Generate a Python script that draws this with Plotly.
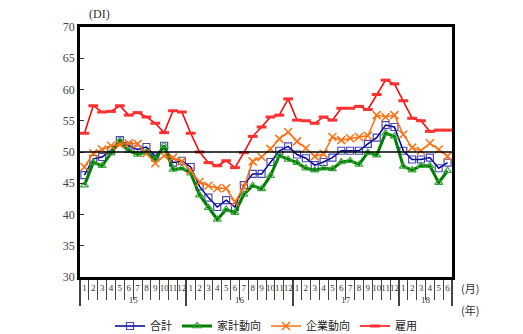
import plotly.graph_objects as go

# 年・月（2015年1月〜2018年6月）
years = ["15"] * 12 + ["16"] * 12 + ["17"] * 12 + ["18"] * 6
months = [str(m) for m in range(1, 13)] * 3 + [str(m) for m in range(1, 7)]

# 各DIの値
goukei = [46.3, 48.9, 49.2, 50.3, 51.9, 51.0, 50.4, 50.8, 49.3, 51.0, 48.3, 48.6,
          47.6, 44.5, 42.7, 41.2, 42.3, 41.2, 44.7, 46.5, 46.5, 48.4, 50.2, 50.9,
          49.6, 49.0, 47.9, 48.4, 49.1, 50.2, 50.2, 50.2, 51.3, 52.3, 54.3, 54.0,
          50.2, 48.8, 48.8, 49.1, 47.4, 48.3]
kakei = [44.7, 48.3, 47.8, 49.8, 51.8, 50.2, 49.6, 50.0, 48.8, 51.0, 47.2, 47.4,
         46.6, 43.1, 41.1, 39.2, 40.8, 40.3, 43.2, 44.6, 44.1, 46.2, 49.4, 48.8,
         48.3, 47.4, 47.1, 47.4, 47.3, 48.4, 48.6, 48.0, 49.9, 49.5, 53.0, 52.5,
         47.7, 47.1, 47.8, 47.8, 45.1, 47.0]
kigyou = [47.6, 49.8, 50.4, 51.0, 51.2, 51.4, 51.3, 49.8, 48.2, 49.4, 49.1, 48.5,
          47.0, 45.2, 44.6, 44.2, 44.2, 42.0, 44.4, 48.5, 49.2, 50.5, 52.1, 53.2,
          51.7, 50.6, 49.3, 49.7, 52.4, 51.9, 52.2, 52.4, 52.6, 55.9, 55.6, 55.9,
          52.8, 50.7, 50.2, 51.4, 50.4, 49.3]
koyou = [53.0, 57.4, 56.4, 56.5, 57.4, 55.9, 56.3, 55.6, 54.6, 53.1, 56.6, 56.4,
         53.0, 50.0, 48.3, 47.8, 48.6, 47.5, 49.9, 52.5, 54.0, 55.6, 55.9, 58.5,
         55.1, 55.0, 54.6, 55.6, 55.1, 57.0, 57.0, 57.3, 56.8, 59.2, 61.5, 60.9,
         58.2, 55.4, 55.0, 53.3, 53.5, 53.5]

x = [years, months]
serif = "Liberation Serif, DejaVu Serif, serif"
cjk = "Noto Sans CJK JP, Noto Sans, sans-serif"

fig = go.Figure()
fig.add_trace(go.Scatter(
    x=x, y=goukei, name="合計", mode="lines+markers",
    line=dict(color="#000090", width=1.5),
    marker=dict(symbol="square-open", size=7, color="rgba(40,40,170,0.85)",
                line=dict(width=1.2))))
fig.add_trace(go.Scatter(
    x=x, y=kakei, name="家計動向", mode="lines+markers",
    line=dict(color="#008000", width=3),
    marker=dict(symbol="triangle-up-open", size=7, color="#3aa23a",
                line=dict(width=1.2))))
fig.add_trace(go.Scatter(
    x=x, y=kigyou, name="企業動向", mode="lines+markers",
    line=dict(color="#ff7010", width=1.5),
    marker=dict(symbol="x-thin-open", size=8, color="#ff7010",
                line=dict(width=1.5))))
fig.add_trace(go.Scatter(
    x=x, y=koyou, name="雇用", mode="lines+markers",
    line=dict(color="#ff0000", width=1.5),
    marker=dict(symbol="line-ew-open", size=7, color="#ff3030",
                line=dict(width=3))))

fig.add_hline(y=50, line=dict(color="black", width=1.5))

fig.update_layout(
    width=523, height=334,
    margin=dict(l=80, r=71, t=27, b=57, autoexpand=False),
    paper_bgcolor="white", plot_bgcolor="white",
    font=dict(family=serif, size=11, color="#333333"),
    showlegend=True,
    legend=dict(orientation="h", x=0.5, xanchor="center", y=-0.196, yanchor="middle",
                font=dict(family=cjk, size=11, color="#222222"),
                itemwidth=30, tracegroupgap=0, bgcolor="rgba(0,0,0,0)"),
    xaxis=dict(
        type="multicategory", range=[-0.5, len(months) - 0.5],
        showline=True, mirror=True, linecolor="black", linewidth=2.5,
        ticks="outside", ticklen=20, tickcolor="#444444", tickwidth=1,
        tickangle=0, dtick=1,
        tickfont=dict(family=serif, size=9, color="#333333"),
        dividercolor="#444444", dividerwidth=1.5,
        showgrid=False, zeroline=False, automargin=False),
    yaxis=dict(
        range=[30, 70], dtick=5, showline=True, mirror=True, linecolor="black", linewidth=2.5,
        ticks="inside", ticklen=4, tickcolor="#333333",
        tickfont=dict(family=serif, size=12, color="#444444"),
        showgrid=False, zeroline=False, automargin=False),
)

fig.add_annotation(text="(DI)", xref="paper", yref="paper", x=0.02, y=1.0, yanchor="bottom",
                   xanchor="left", showarrow=False, yshift=4,
                   font=dict(family=serif, size=12, color="#333333"))
fig.add_annotation(text="(月)", xref="paper", yref="paper", x=1.02, y=-0.045, xanchor="left",
                   yanchor="middle", showarrow=False,
                   font=dict(family=cjk, size=11, color="#333333"))
fig.add_annotation(text="(年)", xref="paper", yref="paper", x=1.02, y=-0.13, xanchor="left",
                   yanchor="middle", showarrow=False,
                   font=dict(family=cjk, size=11, color="#333333"))

fig.write_html("out.html")
